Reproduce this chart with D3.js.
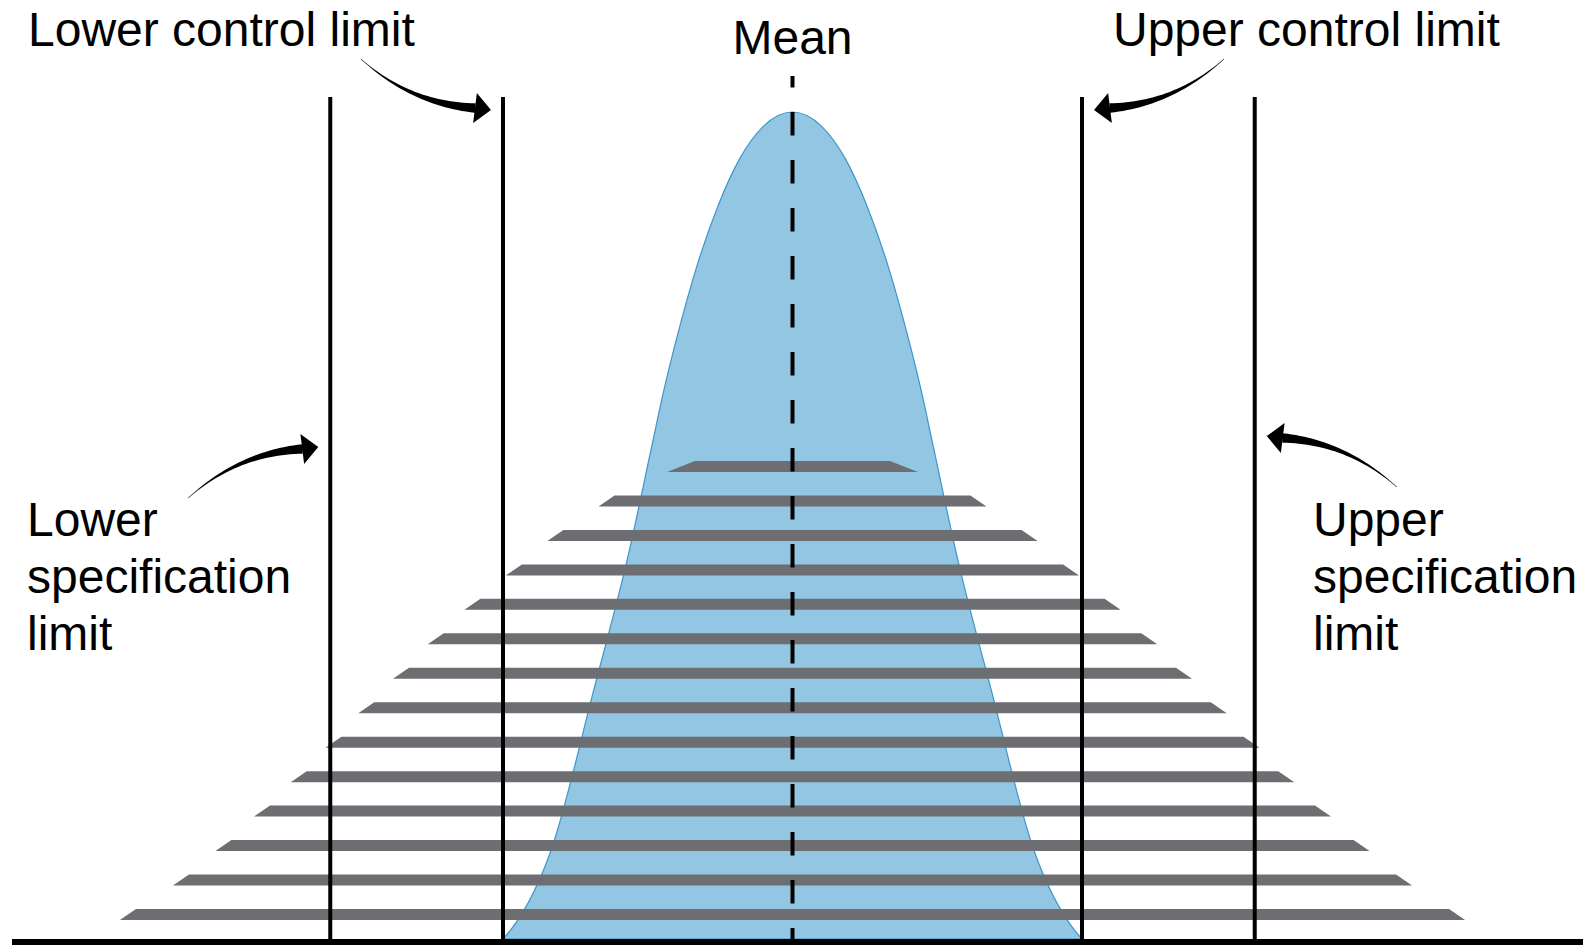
<!DOCTYPE html>
<html>
<head>
<meta charset="utf-8">
<script src="https://cdn.jsdelivr.net/npm/d3@7"></script>
<style>
    body { margin: 0; background: #fff; }
    text { font-family: "Liberation Sans", Arial, sans-serif; font-size: 48px; fill: #000; }
</style>
</head>
<body>
<svg width="1583" height="945"></svg>
<script>
// bell curve: position in sigma, height relative to the peak
var curveX = [-3, -2.92, -2.5, -2.06, -1.7, -1.46, -1.34, -1.19, -0.99, -0.77, -0.55, -0.3, 0,
    0.3, 0.55, 0.77, 0.99, 1.19, 1.34, 1.46, 1.7, 2.06, 2.5, 2.92, 3];
var curveY = [0, 0.011, 0.108, 0.301, 0.465, 0.595, 0.66, 0.731, 0.814, 0.887, 0.943, 0.983, 1,
    0.983, 0.943, 0.887, 0.814, 0.731, 0.66, 0.595, 0.465, 0.301, 0.108, 0.011, 0];

// half width of each grey bar (sigma), top bar first
var barHalfWidth = [1.30, 2.01, 2.54, 2.97, 3.40, 3.78, 4.14, 4.50, 4.84, 5.20, 5.58, 5.98, 6.42, 6.97];

// limit lines
var limitNames = ["Lower specification limit", "Lower control limit", "Upper control limit", "Upper specification limit"];
var limitValues = [-4.79, -3, 3, 4.79];
var meanValue = 0;

var svg = d3.select("svg"),
    width = +svg.attr("width"),
    height = +svg.attr("height");

var x = d3.scaleLinear().domain([-8, 8]).range([20.5, 1564.5]);
var y = d3.scaleLinear().domain([0, 1]).range([939, 112]);
var yBar = d3.scalePoint().domain(d3.range(barHalfWidth.length)).range([466.5, 914.5]);

// blue distribution
var curveData = curveX.map(function (d, i) { return {x: d, y: curveY[i]}; });
svg.append("path")
    .datum(curveData)
    .attr("fill", "#92c6e2")
    .attr("stroke", "#3d95cc")
    .attr("stroke-width", 1.2)
    .attr("d", d3.area()
        .x(function (d) { return x(d.x); })
        .y0(y(0))
        .y1(function (d) { return y(d.y); })
        .curve(d3.curveMonotoneX));

// grey trapezoid bars
var barH = 11;
svg.selectAll(".bar")
    .data(barHalfWidth)
    .enter().append("path")
    .attr("class", "bar")
    .attr("fill", "#6d6e71")
    .attr("d", function (d, i) {
        var c = yBar(i), inset = i == 0 ? 28 : 16;
        var l = x(-d), r = x(d);
        return "M" + l + "," + (c + barH / 2) +
            "L" + (l + inset) + "," + (c - barH / 2) +
            "L" + (r - inset) + "," + (c - barH / 2) +
            "L" + r + "," + (c + barH / 2) + "Z";
    });

// limit lines
svg.selectAll(".limit")
    .data(limitValues)
    .enter().append("line")
    .attr("class", "limit")
    .attr("x1", function (d) { return x(d); })
    .attr("x2", function (d) { return x(d); })
    .attr("y1", 97)
    .attr("y2", 940)
    .attr("stroke", "#000")
    .attr("stroke-width", 4);

// mean dashed line
svg.append("line")
    .attr("x1", x(meanValue)).attr("x2", x(meanValue))
    .attr("y1", 76).attr("y2", 939)
    .attr("stroke", "#000")
    .attr("stroke-width", 4)
    .attr("stroke-dasharray", "23.5,24.5")
    .attr("stroke-dashoffset", 12);

// baseline
svg.append("line")
    .attr("x1", 12).attr("x2", width)
    .attr("y1", 942).attr("y2", 942)
    .attr("stroke", "#000")
    .attr("stroke-width", 6);

// curved arrows: same shape, mirrored. sx/sy flip the shape, tip sits next to the line
var arrows = [
    {limit: -3, side: -1, sx: 1, sy: 1, ty: 110},
    {limit: 3, side: 1, sx: -1, sy: 1, ty: 110},
    {limit: -4.79, side: -1, sx: 1, sy: -1, ty: 447},
    {limit: 4.79, side: 1, sx: -1, sy: -1, ty: 436}
];

function arrowPath(a) {
    var tx = x(a.limit) + a.side * 12, ty = a.ty;
    var p0 = [tx - 130 * a.sx, ty - 51 * a.sy],
        p1 = [tx - 80 * a.sx, ty - 6 * a.sy],
        p2 = [tx - 16 * a.sx, ty - 2 * a.sy];
    var left = [], right = [], n = 30;
    for (var k = 0; k <= n; k++) {
        var t = k / n, u = 1 - t;
        var px = u * u * p0[0] + 2 * u * t * p1[0] + t * t * p2[0];
        var py = u * u * p0[1] + 2 * u * t * p1[1] + t * t * p2[1];
        var dx = 2 * u * (p1[0] - p0[0]) + 2 * t * (p2[0] - p1[0]);
        var dy = 2 * u * (p1[1] - p0[1]) + 2 * t * (p2[1] - p1[1]);
        var len = Math.sqrt(dx * dx + dy * dy);
        var w = (0.4 + 9 * Math.pow(t, 1.3)) / 2;
        left.push([px - dy / len * w, py + dx / len * w]);
        right.unshift([px + dy / len * w, py - dx / len * w]);
    }
    var hx = tx - p2[0], hy = ty - p2[1], hl = Math.sqrt(hx * hx + hy * hy);
    var nx = -hy / hl * 15, ny = hx / hl * 15;
    var body = "M" + left.concat(right).map(function (p) { return p.join(","); }).join("L") + "Z";
    var head = "M" + (p2[0] + nx) + "," + (p2[1] + ny) + "L" + tx + "," + ty +
        "L" + (p2[0] - nx) + "," + (p2[1] - ny) + "Z";
    return body + head;
}

svg.selectAll(".arrow")
    .data(arrows)
    .enter().append("path")
    .attr("class", "arrow")
    .attr("fill", "#000")
    .attr("d", arrowPath);

// labels
svg.append("text").attr("x", 28).attr("y", 46).text(limitNames[1]);
svg.append("text").attr("x", 1113).attr("y", 46).text(limitNames[2]);
svg.append("text").attr("x", x(meanValue)).attr("y", 54)
    .style("text-anchor", "middle").text("Mean");

var sideLabels = [
    {x: 27, lines: ["Lower", "specification", "limit"]},
    {x: 1313, lines: ["Upper", "specification", "limit"]}
];
sideLabels.forEach(function (s) {
    var t = svg.append("text").attr("x", s.x).attr("y", 536);
    s.lines.forEach(function (l, i) {
        t.append("tspan").attr("x", s.x).attr("dy", i == 0 ? 0 : 57).text(l);
    });
});
</script>
</body>
</html>
